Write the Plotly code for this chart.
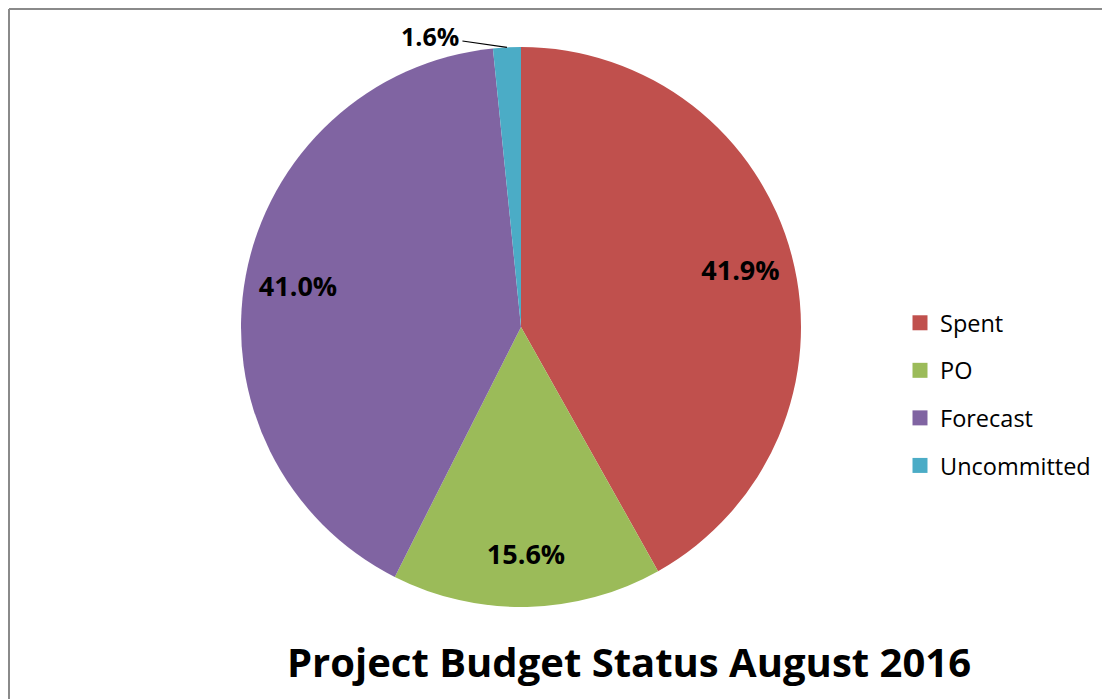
import math
import plotly.graph_objects as go

categories = ["Spent", "PO", "Forecast", "Uncommitted"]
percent_values = [41.9, 15.6, 41.0, 1.6]
colors = ["#C0504D", "#9BBB59", "#8064A2", "#4BACC6"]
label_position = ["inside", "inside", "inside", "outside"]
title_text = "Project Budget Status August 2016"

# figure sits inside the page's 8px body margin
W, H = 1102, 691
FONT = "Open Sans"
CX, CY, R = 513, 319, 280  # pie centre / radius in figure pixels

fig = go.Figure()

pie_domain = dict(x=[(CX - R) / W, (CX + R) / W], y=[1 - (CY + R) / H, 1 - (CY - R) / H])

# coloured pie
fig.add_trace(go.Pie(
    labels=categories, values=percent_values, sort=False,
    direction="clockwise", rotation=0,
    marker=dict(colors=colors, line=dict(width=0)),
    textinfo="none", domain=pie_domain, showlegend=False,
    hoverinfo="label+percent",
))

# transparent ring on top that carries the inside labels out toward the rim
fig.add_trace(go.Pie(
    labels=categories, values=percent_values, sort=False,
    direction="clockwise", rotation=0, hole=0.62,
    marker=dict(colors=["rgba(0,0,0,0)"] * len(categories), line=dict(width=0)),
    texttemplate="%{value:.1f}%",
    textposition=[p if p == "inside" else "none" for p in label_position],
    insidetextorientation="horizontal",
    insidetextfont=dict(family=FONT, size=27, color="black", weight="bold"),
    domain=pie_domain, showlegend=False, hoverinfo="skip",
))

# outside label(s) with leader line, anchored on the slice's rim at its mid-angle
annotations = []
total = sum(percent_values)
cum = 0.0
for cat, v, pos in zip(categories, percent_values, label_position):
    mid = (cum + v / 2) / total * 2 * math.pi
    cum += v
    if pos != "outside":
        continue
    px = CX + R * math.sin(mid)
    py = CY - R * math.cos(mid)
    annotations.append(dict(
        xref="paper", yref="paper", x=px / W, y=1 - py / H,
        text=f"<b>{v:.1f}%</b>", showarrow=True, arrowhead=0, arrowwidth=1.2,
        arrowcolor="black", standoff=0, startstandoff=2, ax=-77, ay=-11,
        font=dict(family=FONT, size=25, color="black"),
    ))

# legend entries (one group each so spacing can match)
for cat, col in zip(categories, colors):
    fig.add_trace(go.Scatter(
        x=[None], y=[None], mode="markers", name=cat,
        marker=dict(symbol="square", size=15, color=col),
        legendgroup=cat, showlegend=True, hoverinfo="skip",
    ))

fig.update_layout(
    width=W, height=H,
    margin=dict(l=0, r=0, t=0, b=0),
    paper_bgcolor="white", plot_bgcolor="white",
    xaxis=dict(visible=False), yaxis=dict(visible=False),
    title=dict(text=title_text, x=621 / W, xanchor="center", y=1 - 655 / H, yanchor="middle",
               font=dict(family=FONT, size=40, color="black", weight="bold")),
    legend=dict(x=892 / W, xanchor="left", y=1 - 293 / H, yanchor="top",
                font=dict(family=FONT, size=23.5, color="black"),
                tracegroupgap=14, bgcolor="rgba(0,0,0,0)"),
    annotations=annotations,
    shapes=[
        dict(type="line", xref="paper", yref="paper", x0=1 / W, x1=1 / W, y0=0, y1=1 - 1 / H,
             line=dict(color="#8a8a8a", width=2)),
        dict(type="line", xref="paper", yref="paper", x0=1 / W, x1=1, y0=1 - 1 / H, y1=1 - 1 / H,
             line=dict(color="#8a8a8a", width=2)),
    ],
)

fig.write_html("out.html")
